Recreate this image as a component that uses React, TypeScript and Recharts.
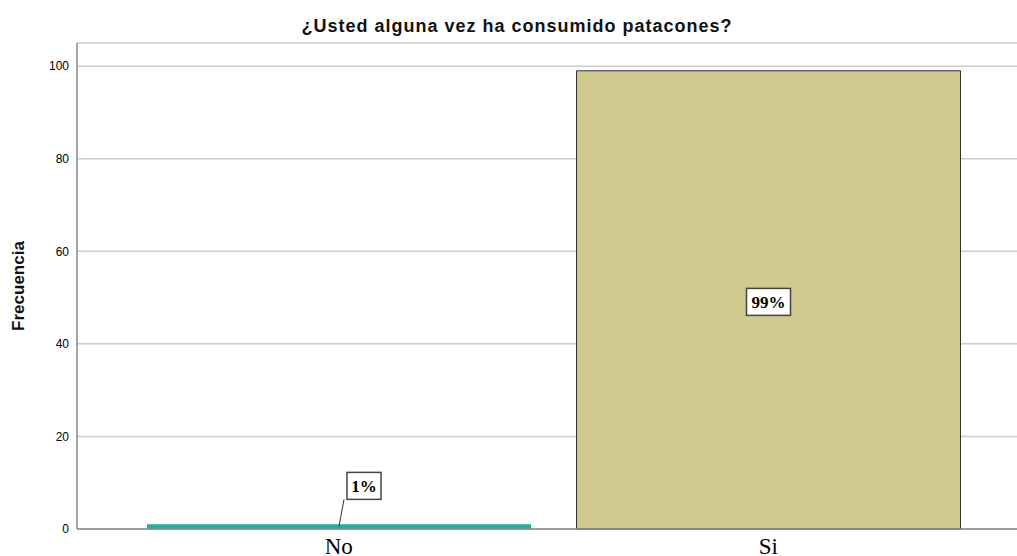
import { BarChart, Bar, XAxis, YAxis, CartesianGrid, Cell, LabelList } from 'recharts';

const categories = ['No', 'Si'];
const frequencies = [1, 99];
const percentLabels = ['1%', '99%'];
const barColors = ['#1db39e', '#d0ca8e'];
const yTicks = [0, 20, 40, 60, 80, 100];

const data = categories.map((name, i) => ({
  name,
  value: frequencies[i],
  pct: percentLabels[i],
}));

const serif = '"Liberation Serif", "Times New Roman", serif';
const sans = '"Liberation Sans", Arial, sans-serif';

const PctLabel = (props: any) => {
  const { x, y, width, height, index } = props;
  const text = percentLabels[index];
  const boxW = text.length > 2 ? 44 : 34;
  const boxH = 27;
  const cx = x + width / 2;
  if (height < 40) {
    // small bar: box sits above with a leader line
    const bx = cx + 8;
    const by = y - 52;
    return (
      <g>
        <line x1={cx} y1={y + 2} x2={bx - 3} y2={by + boxH} stroke="#333" strokeWidth={1} />
        <rect x={bx} y={by} width={boxW} height={boxH} fill="#fff" stroke="#444" strokeWidth={1.5} />
        <text x={bx + boxW / 2} y={by + boxH / 2 + 6} textAnchor="middle" fontFamily={serif} fontWeight="bold" fontSize={17} fill="#000">
          {text}
        </text>
      </g>
    );
  }
  const cy = y + height / 2 + 2;
  return (
    <g>
      <rect x={cx - boxW / 2} y={cy - boxH / 2} width={boxW} height={boxH} fill="#fff" stroke="#444" strokeWidth={1.5} />
      <text x={cx} y={cy + 6} textAnchor="middle" fontFamily={serif} fontWeight="bold" fontSize={17} fill="#000">
        {text}
      </text>
    </g>
  );
};

const App = () => {
  return (
    <div style={{ position: 'absolute', left: 0, top: 0, width: 1017, height: 556, background: '#fff' }}>
      <div
        style={{
          position: 'absolute',
          top: 16,
          left: 0,
          width: 1034,
          textAlign: 'center',
          fontFamily: sans,
          fontWeight: 'bold',
          fontSize: 18,
          letterSpacing: 1,
          color: '#111',
        }}
      >
        ¿Usted alguna vez ha consumido patacones?
      </div>
      <BarChart
        width={1017}
        height={556}
        data={data}
        margin={{ top: 43, right: 0, left: 0, bottom: 0 }}
      >
        <CartesianGrid vertical={false} stroke="#cccccc" strokeWidth={1.5} />
        <XAxis
          dataKey="name"
          height={27}
          padding={{ left: 47, right: 34 }}
          tickLine={false}
          axisLine={{ stroke: '#888', strokeWidth: 1.5 }}
          tick={{ fontFamily: serif, fontSize: 23, fill: '#000', dy: 1 }}
        />
        <YAxis
          width={77}
          domain={[0, 105]}
          ticks={yTicks}
          tickLine={false}
          axisLine={{ stroke: '#888', strokeWidth: 1.5 }}
          tick={{ fontFamily: sans, fontSize: 12, fill: '#000' }}
          label={{
            value: 'Frecuencia',
            angle: -90,
            position: 'insideLeft',
            offset: 18,
            style: { fontFamily: sans, fontSize: 17, fontWeight: 'bold', fill: '#111', textAnchor: 'middle' },
          }}
        />
        <Bar dataKey="value" barSize={384} isAnimationActive={false}>
          {data.map((d, i) => (
            <Cell key={d.name} fill={barColors[i]} stroke={i === 1 ? '#333' : 'none'} strokeWidth={1} />
          ))}
          <LabelList dataKey="pct" content={<PctLabel />} />
        </Bar>
      </BarChart>
    </div>
  );
};

export default App;
